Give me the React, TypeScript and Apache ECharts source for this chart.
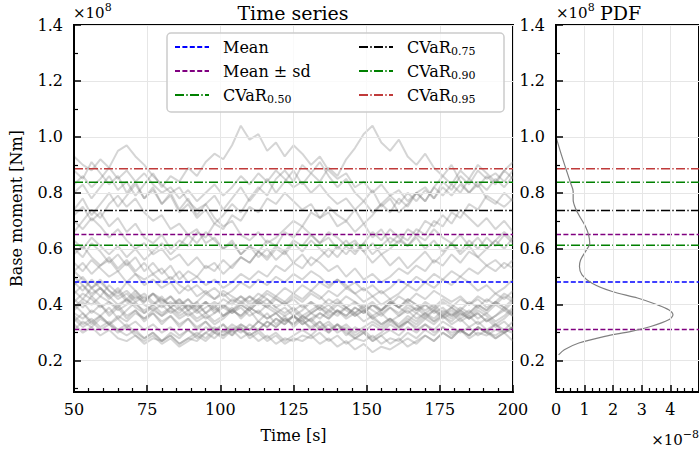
import React, { useEffect, useRef } from 'react';
import * as echarts from 'echarts';

// Time axis (s)
const TIMES = [50,53,56,59,62,65,68,71,74,77,80,83,86,89,92,95,98,101,104,107,110,113,116,119,122,125,128,131,134,137,140,143,146,149,152,155,158,161,164,167,170,173,176,179,182,185,188,191,194,197,200];

// Base moment realisations, units of 1e6 Nm
const RUN_U1 = [93,90,88,92,89,95,97,93,90,86,83,80,82,77,74,76,71,68,70,65,63,66,62,64,67,70,68,73,71,75,72,70,74,69,72,76,73,78,75,80,77,82,79,83,80,85,82,86,83,88,85];
const RUN_U2 = [80,83,78,82,86,81,84,79,83,87,82,86,84,89,86,91,94,92,97,104,99,101,95,98,93,97,94,90,93,88,85,87,82,84,80,83,79,81,77,80,82,78,84,81,86,83,88,85,87,84,88];
const RUN_U3 = [74,78,72,76,80,75,79,83,78,82,76,80,74,78,72,76,79,74,78,82,77,81,85,80,84,88,83,87,84,89,86,92,96,101,104,98,95,99,93,90,94,89,86,90,84,80,83,78,76,80,77];
const RUN_U4 = [88,85,91,87,83,86,80,84,78,81,76,79,73,76,71,74,69,72,76,73,78,82,79,85,88,84,90,87,91,86,82,85,80,77,81,75,78,73,76,80,77,82,86,83,88,85,90,87,84,88,91];
const RUN_U5 = [72,75,70,73,68,71,66,69,64,62,65,60,63,61,66,64,69,67,72,70,75,73,78,76,80,77,74,76,71,73,68,70,66,69,64,67,62,65,63,67,65,70,68,73,71,76,74,79,77,75,78];
const RUN_U6 = [66,70,74,71,76,79,75,78,73,70,72,67,69,65,67,62,64,60,63,58,61,59,63,61,66,64,68,65,62,64,60,63,59,62,58,61,64,62,67,65,70,68,72,69,74,71,68,71,67,70,66];
const RUN_U7 = [83,86,82,85,89,85,88,84,87,83,80,82,78,81,77,80,83,79,82,86,83,87,84,88,85,82,84,80,83,79,76,78,74,77,73,76,79,76,80,77,81,78,82,79,83,80,84,81,85,82,86];
const RUN_M1 = [60,57,62,59,55,58,54,57,52,55,51,54,49,52,50,54,52,56,53,57,55,59,56,60,58,62,59,63,60,57,61,58,62,59,55,58,54,57,53,56,59,55,58,62,59,63,60,64,61,65,62];
const RUN_M2 = [55,52,56,53,50,52,48,51,47,49,46,48,44,47,43,45,42,44,41,43,40,42,45,43,46,44,47,45,48,46,49,47,44,46,43,45,42,44,47,45,48,46,49,47,50,48,45,47,44,46,49];
const RUN_M3 = [70,67,71,68,64,67,63,60,62,58,60,56,58,54,57,53,55,51,54,57,55,59,57,61,59,63,61,65,62,66,64,61,63,59,62,58,60,63,61,65,63,67,64,62,65,61,64,60,63,66,63];
const RUN_M4 = [52,55,51,54,57,53,56,52,55,51,53,49,52,48,50,47,49,46,48,51,49,52,50,54,52,55,53,57,55,52,54,50,53,49,51,48,50,53,51,54,52,56,54,58,55,59,57,54,56,53,56];
const RUN_M5 = [63,60,64,61,58,61,57,60,56,59,62,58,61,65,62,66,63,60,62,58,61,57,60,56,59,55,58,54,57,60,57,61,58,62,66,63,67,64,61,64,60,63,59,62,58,61,57,60,63,60,64];
const RUN_M6 = [58,61,57,54,56,52,55,51,49,51,48,50,47,45,47,44,46,43,45,48,46,49,47,50,48,51,49,52,50,47,49,46,48,45,47,44,46,49,47,50,48,51,49,52,50,53,51,54,52,55,53];
const RUN_L1 = [42,39,43,40,37,40,36,38,35,37,34,36,33,35,32,34,31,33,30,32,29,31,34,32,35,33,36,34,31,33,30,32,29,31,28,30,33,31,34,32,35,33,36,34,37,35,38,36,33,35,38];
const RUN_L2 = [36,33,35,32,34,31,29,31,28,30,27,29,26,28,27,30,28,31,29,33,31,34,32,35,33,36,34,37,35,38,36,39,37,40,38,36,39,37,40,38,41,39,42,40,38,41,39,42,40,43,41];
const RUN_L3 = [48,45,49,46,43,46,42,45,41,44,40,43,39,42,38,41,37,40,38,41,39,42,40,43,41,44,42,45,43,40,42,39,41,38,40,37,39,36,38,35,37,34,36,33,35,32,34,31,33,30,32];
const RUN_L4 = [38,41,37,40,36,39,35,38,34,37,33,36,32,35,31,34,30,33,29,32,28,30,27,29,26,28,27,29,26,28,25,27,24,26,23,25,24,26,28,26,29,27,30,28,31,29,32,30,28,30,27];
const RUN_L5 = [34,37,33,36,39,35,38,41,37,40,43,39,42,38,41,37,40,36,39,35,38,34,37,33,36,32,35,31,34,30,33,29,32,30,33,31,34,32,35,33,36,34,37,35,38,36,39,37,40,38,41];
const RUN_L6 = [45,42,46,43,47,44,48,45,42,44,41,43,40,42,39,41,38,40,37,39,36,38,35,37,34,36,33,35,32,34,31,33,30,32,34,32,35,33,36,34,37,35,38,36,39,37,40,38,41,39,42];
const RUN_L7 = [40,37,34,36,33,31,33,30,28,30,27,29,26,28,30,28,31,29,32,30,33,31,34,32,35,33,36,34,37,35,38,36,39,37,40,38,41,39,37,39,36,38,35,37,34,36,33,35,32,34,31];
const RUN_L8 = [52,49,46,48,45,42,44,41,43,40,42,39,41,38,40,37,39,36,38,40,38,41,39,42,40,43,41,44,42,45,43,46,44,41,43,40,42,39,41,38,40,37,39,36,38,35,37,34,36,39,37];
const RUN_L9 = [31,34,32,35,33,36,34,37,35,38,36,39,37,40,38,41,39,42,40,43,41,44,42,39,41,38,40,37,39,36,38,35,37,34,36,33,35,32,34,31,33,30,32,29,31,28,30,29,31,30,32];
const RUN_L10 = [37,35,38,36,33,35,32,34,31,33,30,32,29,31,28,30,32,30,33,31,29,31,28,30,27,29,31,29,32,30,33,31,28,30,27,29,26,28,25,27,29,27,30,28,31,29,32,30,33,31,34];
const RUN_L11 = [44,47,43,46,42,45,41,44,40,38,40,37,39,36,38,35,37,39,37,40,38,41,39,37,39,36,38,41,39,42,40,43,41,39,41,38,40,43,41,44,42,45,43,41,43,40,42,39,41,44,42];
const RUN_L12 = [33,30,32,29,31,28,27,29,26,28,27,30,28,31,29,32,30,29,31,28,30,27,29,26,28,27,29,28,30,27,29,26,28,27,29,26,28,27,30,28,31,29,32,30,31,29,32,30,29,31,30];
const RUN_L13 = [47,50,46,49,45,43,45,42,44,41,39,41,38,40,37,39,41,39,42,40,43,41,44,42,40,42,39,41,38,40,37,39,36,38,35,37,34,36,39,37,40,38,41,39,42,40,43,41,44,42,45];
const RUN_L14 = [39,42,40,43,41,39,42,40,38,40,37,39,36,38,35,37,34,36,38,36,39,37,35,37,34,36,33,35,37,35,38,36,39,37,40,38,41,39,42,40,38,40,37,39,36,38,35,37,34,36,39];
const RUN_L15 = [35,32,34,31,33,30,32,29,27,29,26,28,25,27,29,27,30,28,31,33,31,34,32,35,33,36,34,32,34,31,33,30,28,30,27,29,31,29,32,30,33,31,34,32,30,32,29,31,28,30,32];
const RUN_L16 = [41,44,42,39,41,38,40,43,41,44,42,40,42,39,41,44,42,45,43,41,43,40,42,39,37,39,36,38,40,38,41,39,37,39,36,38,41,39,42,40,37,39,36,38,35,37,40,38,41,39,36];
const RUN_L17 = [50,47,44,46,43,40,42,39,37,39,36,38,35,37,34,36,33,35,38,36,39,37,40,38,36,38,35,37,39,37,40,38,36,38,35,33,35,32,34,37,35,38,36,39,37,35,37,34,36,38,36];

const RUNS = [RUN_U1, RUN_U2, RUN_U3, RUN_U4, RUN_U5, RUN_U6, RUN_U7, RUN_M1, RUN_M2, RUN_M3, RUN_M4, RUN_M5, RUN_M6,
  RUN_L1, RUN_L2, RUN_L3, RUN_L4, RUN_L5, RUN_L6, RUN_L7, RUN_L8, RUN_L9, RUN_L10, RUN_L11, RUN_L12, RUN_L13, RUN_L14,
  RUN_L15, RUN_L16, RUN_L17];

// Statistics, units of 1e6 Nm
const STAT_NAMES = ['Mean', 'Mean ± sd', 'Mean ± sd', 'CVaR0.50', 'CVaR0.75', 'CVaR0.90', 'CVaR0.95'];
const STAT_VALUES = [48.1, 65.1, 31.1, 61.3, 73.7, 83.8, 88.6];
const STAT_COLORS = ['#0000ff', '#800080', '#800080', '#008000', '#000000', '#008000', '#c03a3a'];
const STAT_DASHED = [true, true, true, false, false, false, false];

// PDF (density in 1e-8 per Nm, moment in 1e6 Nm)
const PDF_DENSITY = [0, 0.17, 0.34, 0.51, 0.6, 0.6, 0.68, 0.86, 1.03, 1.14, 1.18, 1.03, 0.86, 0.82, 0.91, 1.26, 1.94, 2.85, 3.54, 3.94, 4.09, 3.94, 3.31, 2.63, 1.71, 0.8, 0.29, 0.09];
const PDF_MOMENT = [100, 94.2, 88.8, 83.5, 80.5, 77.5, 74.5, 71, 68, 65, 62, 59, 56, 53.7, 50.7, 47.7, 44.8, 42.4, 40, 38.2, 36.4, 34.6, 32.2, 30.5, 28.7, 26.3, 23.9, 22.1];

const Y_MINOR_TICKS = [10, 30, 50, 70, 90, 110, 130];
const LEGEND_LEFT = ['Mean', 'Mean ± sd', 'CVaR0.50'];
const LEGEND_RIGHT = ['CVaR0.75', 'CVaR0.90', 'CVaR0.95'];

const FONT = 'DejaVu Serif';
const DASH = [5, 2.4];
const DASHDOT = [9, 2.3, 1.4, 2.3];

export default function App() {
  const ref = useRef<HTMLDivElement>(null);
  useEffect(() => {
    const chart = echarts.init(ref.current!, null, { renderer: 'svg', width: 699, height: 452 });

    const labelStyle = () => ({ color: '#000', fontFamily: FONT, fontSize: 16 });
    const majorTick = () => ({ show: true, inside: true, length: 7, lineStyle: { color: '#000', width: 1.5 } });
    const minorTick = (n: number) => ({ show: true, splitNumber: n, length: 4, lineStyle: { color: '#000', width: 1.2 } });
    const splitLine = () => ({ show: true, lineStyle: { color: '#e6e6e6', width: 1 } });
    const axisLine = () => ({ show: true, lineStyle: { color: '#000', width: 2 } });

    const majorY = (gridIndex: number, name?: string) => ({
      type: 'value', gridIndex, min: 8.8, max: 140, splitNumber: 7, z: 5,
      axisLine: axisLine(),
      axisTick: majorTick(),
      axisLabel: { ...labelStyle(), margin: 11, showMinLabel: false, formatter: (v: number) => (v / 100).toFixed(1) },
      splitLine: splitLine(),
      name, nameLocation: 'middle', nameGap: 50, nameRotate: 90,
      nameTextStyle: { color: '#000', fontFamily: FONT, fontSize: 16 },
    });
    const minorY = (gridIndex: number) => ({
      type: 'value', gridIndex, min: 8.8, max: 140, position: 'left', z: 5,
      axisLine: { show: false },
      axisTick: { show: true, inside: true, length: 4, lineStyle: { color: '#000', width: 1.2 }, customValues: Y_MINOR_TICKS },
      axisLabel: { show: false },
      splitLine: { show: false },
    });

    const gray = RUNS.map((run) => ({
      type: 'line', xAxisIndex: 0, yAxisIndex: 0, silent: true, symbol: 'none', z: 2,
      lineStyle: { color: 'rgba(128,128,128,0.33)', width: 2 },
      data: TIMES.map((t, i) => [t, run[i]]),
    }));

    const stats = (xi: number, yi: number, x0: number, x1: number) => STAT_VALUES.map((v, k) => ({
      type: 'line', name: STAT_NAMES[k], xAxisIndex: xi, yAxisIndex: yi, symbol: 'none', silent: true, z: 3,
      itemStyle: { color: STAT_COLORS[k] },
      lineStyle: { color: STAT_COLORS[k], width: 1.5, type: STAT_DASHED[k] ? DASH : DASHDOT },
      data: [[x0, v], [x1, v]],
    }));

    const legendCommon = () => ({
      orient: 'vertical', top: 37, padding: 0, itemWidth: 34, itemHeight: 14, itemGap: 4,
      selectedMode: false, z: 10,
      itemStyle: { opacity: 0 },
      textStyle: {
        color: '#000', fontFamily: FONT, fontSize: 16, lineHeight: 20, padding: [0, 0, 0, 9],
        rich: { sub: { fontFamily: FONT, fontSize: 11, lineHeight: 13, verticalAlign: 'bottom', color: '#000' } },
      },
      formatter: (n: string) => (n.startsWith('CVaR') ? `CVaR{sub|${n.slice(4)}}` : n),
    });

    const richTxt = (text: string, x: number, y: number, align: string) => ({
      type: 'text', x, y, z: 10,
      style: {
        text, fill: '#000', fontFamily: FONT, fontSize: 15, lineHeight: 22,
        align, textAlign: align, verticalAlign: 'middle', textVerticalAlign: 'middle',
        rich: { sup: { fontFamily: FONT, fontSize: 11, lineHeight: 12, verticalAlign: 'top', fill: '#000' } },
      },
    });

    chart.setOption({
      animation: false,
      backgroundColor: '#fff',
      grid: [
        { left: 73, top: 25, width: 440, height: 367, show: true, borderColor: '#000', borderWidth: 2, containLabel: false },
        { left: 556, top: 25, width: 146, height: 367, show: true, borderColor: '#000', borderWidth: 2, containLabel: false },
      ],
      xAxis: [
        {
          type: 'value', gridIndex: 0, min: 50, max: 200, interval: 25, z: 5,
          axisLine: axisLine(),
          axisTick: majorTick(),
          minorTick: minorTick(5),
          axisLabel: { ...labelStyle(), margin: 9 },
          splitLine: splitLine(),
          name: 'Time [s]', nameLocation: 'middle', nameGap: 35,
          nameTextStyle: { color: '#000', fontFamily: FONT, fontSize: 16 },
        },
        {
          type: 'value', gridIndex: 1, min: 0, max: 5, interval: 1, z: 5,
          axisLine: axisLine(),
          axisTick: majorTick(),
          minorTick: minorTick(4),
          axisLabel: { ...labelStyle(), margin: 9, showMaxLabel: false },
          splitLine: splitLine(),
        },
      ],
      yAxis: [majorY(0, 'Base moment [Nm]'), minorY(0), majorY(1), minorY(1)],
      legend: [
        { ...legendCommon(), left: 174, data: LEGEND_LEFT },
        { ...legendCommon(), left: 358, data: LEGEND_RIGHT },
      ],
      graphic: [
        {
          type: 'rect', z: 9, shape: { x: 167, y: 33, width: 337, height: 79, r: 4 },
          style: { fill: 'rgba(255,255,255,0.8)', stroke: '#cccccc', lineWidth: 1.5 },
        },
        {
          type: 'text', x: 293, y: 13, z: 10,
          style: { text: 'Time series', fill: '#000', fontFamily: FONT, fontSize: 19, align: 'center', textAlign: 'center', verticalAlign: 'middle', textVerticalAlign: 'middle' },
        },
        {
          type: 'text', x: 600, y: 13, z: 10,
          style: { text: 'PDF', fill: '#000', fontFamily: FONT, fontSize: 19, align: 'left', textAlign: 'left', verticalAlign: 'middle', textVerticalAlign: 'middle' },
        },
        richTxt('×10{sup|8}', 73, 13, 'left'),
        richTxt('×10{sup|8}', 556, 13, 'left'),
        richTxt('×10{sup|−8}', 699, 440, 'right'),
      ],
      series: [
        ...gray,
        ...stats(0, 0, 50, 200),
        ...stats(1, 2, 0, 5),
        {
          type: 'line', name: 'PDF', xAxisIndex: 1, yAxisIndex: 2, symbol: 'none', silent: true, smooth: 0.3, z: 4,
          lineStyle: { color: '#808080', width: 1.2 },
          data: PDF_DENSITY.map((d, i) => [d, PDF_MOMENT[i]]),
        },
      ],
    });
    return () => chart.dispose();
  }, []);
  return <div ref={ref} style={{ position: 'fixed', left: 0, top: 0, width: 699, height: 452, background: '#fff' }} />;
}
